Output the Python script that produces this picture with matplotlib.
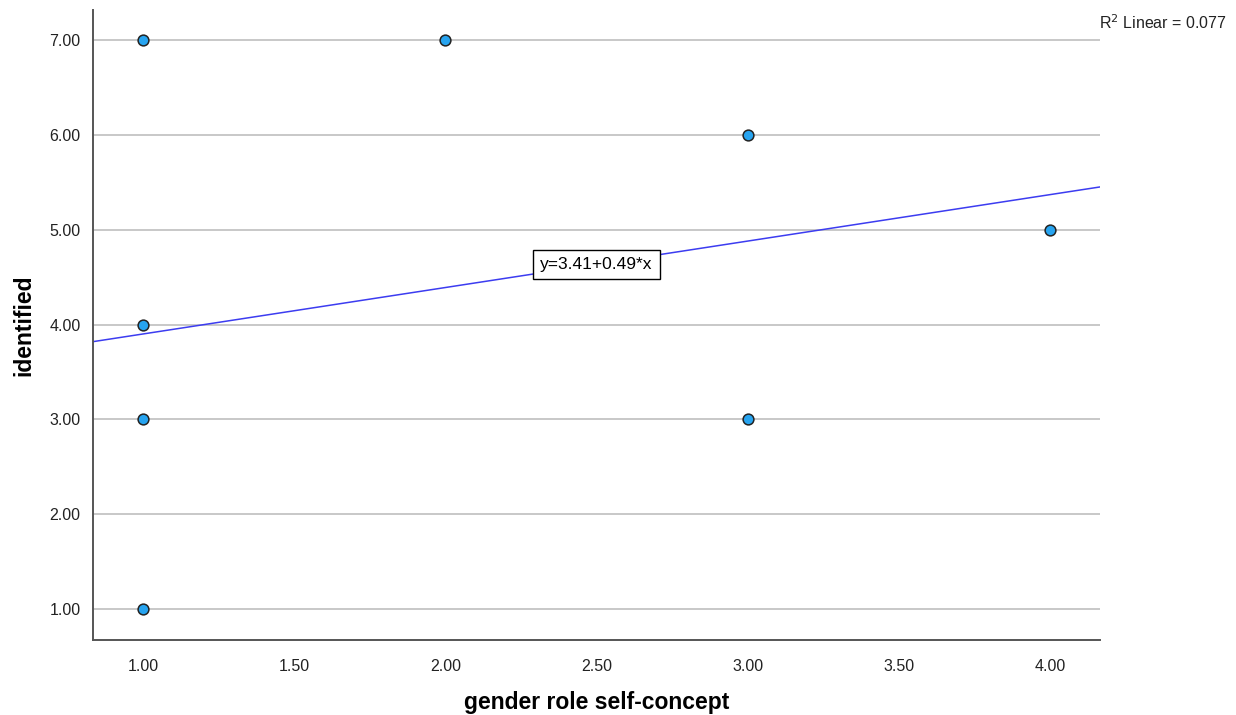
import numpy as np
import matplotlib.pyplot as plt

plt.rcParams['font.family'] = ['Liberation Sans', 'DejaVu Sans']

# gender role self-concept vs identified
gender_role = [1, 2, 3, 4, 1, 1, 3, 1]
identified = [7, 7, 6, 5, 4, 3, 3, 1]

# linear fit reported on the chart
fit_intercept = 3.41
fit_slope = 0.49
r2_linear = 0.077

x_ticks = [1.0, 1.5, 2.0, 2.5, 3.0, 3.5, 4.0]
y_ticks = [1.0, 2.0, 3.0, 4.0, 5.0, 6.0, 7.0]

fig = plt.figure(figsize=(12.36, 7.15), dpi=100)
ax = fig.add_axes([0.0752, 0.1049, 0.8148, 0.881])

xlim = (0.835, 4.165)
ylim = (0.673, 7.316)
ax.set_xlim(*xlim)
ax.set_ylim(*ylim)

for yt in y_ticks:
    ax.axhline(yt, color='#c8c8c8', lw=1.4, zorder=1)

# fit line across the whole x range
xs = np.array(xlim)
ax.plot(xs, fit_intercept + fit_slope * xs, color='#3c3cf0', lw=1.1, zorder=2)

ax.scatter(gender_role, identified, s=60, color='#27a4f0',
           edgecolor='#222222', linewidth=1.1, zorder=3)

ax.set_xticks(x_ticks)
ax.set_xticklabels([f'{v:.2f}' for v in x_ticks])
ax.set_yticks(y_ticks)
ax.set_yticklabels([f'{v:.2f}' for v in y_ticks])
ax.tick_params(length=0, labelsize=11.5, colors='#222222', pad=9)
ax.tick_params(axis='x', pad=14)

for side in ['top', 'right']:
    ax.spines[side].set_visible(False)
for side in ['left', 'bottom']:
    ax.spines[side].set_color('#555555')
    ax.spines[side].set_linewidth(1.4)

ax.set_xlabel('gender role self-concept', fontsize=16.5, fontweight='bold', labelpad=12)
ax.set_ylabel('identified', fontsize=16.5, fontweight='bold', labelpad=10)

ax.text(2.5, fit_intercept + fit_slope * 2.5, f'y={fit_intercept:.2f}+{fit_slope:.2f}*x',
        ha='center', va='center', fontsize=12.5, zorder=4,
        bbox=dict(boxstyle='square,pad=0.4', fc='white', ec='black', lw=1.0))

fig.text(0.889, 0.969, f'R$^2$ Linear = {r2_linear:.3f}', fontsize=11.5,
         ha='left', va='center', color='#222222')

fig.savefig('out.png', dpi=100)
